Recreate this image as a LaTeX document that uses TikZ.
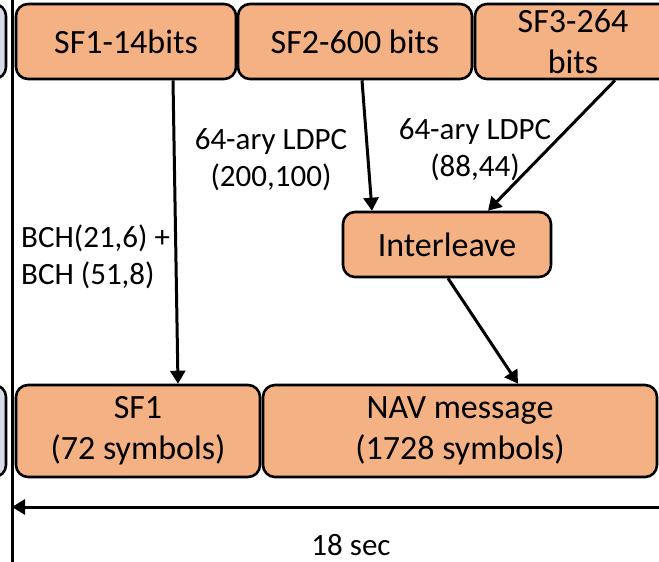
\documentclass[tikz,border=0pt]{standalone}
\usepackage{fontspec}
\setmainfont{Carlito}
\usetikzlibrary{arrows.meta,calc}
\definecolor{boxorange}{HTML}{F4B183}
\definecolor{boxgray}{HTML}{D6DCE5}
\tikzset{
  blk/.style={draw=black, line width=2.6pt, fill=boxorange, rounded corners=12pt,
    align=center, inner sep=0pt, font=\fontsize{34}{41}\selectfont},
  side/.style={draw=black, line width=2.6pt, fill=boxgray, rounded corners=12pt, inner sep=0pt},
  lbl/.style={align=center, inner sep=0pt, font=\fontsize{31}{37}\selectfont},
  lbll/.style={align=left, inner sep=0pt, font=\fontsize{31}{37}\selectfont},
  conn/.style={line width=3pt, -{Triangle[length=13pt,width=15pt]}},
}
\begin{document}
\begin{tikzpicture}[x=1pt,y=-1pt]
\clip (0,0) rectangle (659,562);
\fill[white] (0,0) rectangle (659,562);
% partial side boxes
\node[side, minimum width=80pt, minimum height=75pt] (lt) at (-34,41.5) {};
\node[side, minimum width=80pt, minimum height=92pt] (lb) at (-34,431) {};
% vertical line
\coordinate (vt) at (12,-10);
\coordinate (vb) at (12,572);
\draw[line width=3pt] (vt) -- (vb);
% top blocks
\node[blk, minimum width=220pt, minimum height=75pt] (sf1t) at (126,41.5) {SF1-14bits};
\node[blk, minimum width=234pt, minimum height=75pt] (sf2t) at (355,41.5) {SF2-600 bits};
\node[blk, minimum width=196pt, minimum height=75pt] (sf3t) at (573,41.5) {SF3-264\\bits};
% interleave
\node[blk, minimum width=208pt, minimum height=65pt] (intl) at (447,244.5) {Interleave};
% bottom blocks
\node[blk, minimum width=244pt, minimum height=92pt] (sf1b) at (138,431) {SF1\\(72 symbols)};
\node[blk, minimum width=394pt, minimum height=92pt] (nav) at (460,431) {NAV message\\(1728 symbols)};
% labels
\node[lbl] (l1) at (271,160) {64-ary LDPC\\(200,100)};
\node[lbl] (l2) at (475,150) {64-ary LDPC\\(88,44)};
\node[lbll, anchor=west] (l3) at (21,257) {BCH(21,6) +\\BCH (51,8)};
\node[lbl] (l4) at (351,545) {18 sec};
% connectors
\draw[conn] ([xshift=47pt]sf1t.south) -- ([xshift=40pt]sf1b.north);
\draw[conn] ([xshift=7pt]sf2t.south) -- ([xshift=-75pt]intl.north);
\draw[conn] ([xshift=42pt]sf3t.south) -- ([xshift=41pt]intl.north);
\draw[conn] ([xshift=1pt]intl.south) -- ([xshift=58pt]nav.north);
% duration arrow
\coordinate (dr) at (700,507);
\coordinate (dl) at (12,507);
\draw[conn] (dr) -- (dl);
\end{tikzpicture}
\end{document}
